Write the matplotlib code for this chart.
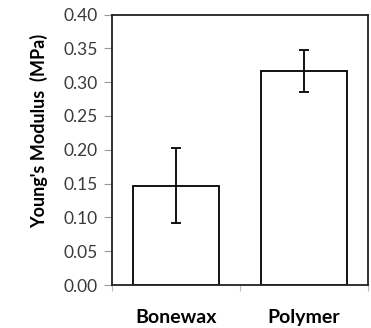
import matplotlib
matplotlib.use("Agg")
import matplotlib.pyplot as plt

categories = ["Bonewax", "Polymer"]
values = [0.147, 0.316]
errors = [0.056, 0.031]
yticks = [0.00, 0.05, 0.10, 0.15, 0.20, 0.25, 0.30, 0.35, 0.40]

plt.rcParams['font.family'] = ['Lato', 'DejaVu Sans']

fig = plt.figure(figsize=(3.71, 3.28), dpi=100)
ax = fig.add_axes([111.5/371, 1 - 285/328, (368-111.5)/371, (285-14.5)/328])

x = list(range(len(categories)))
ax.bar(x, values, width=0.67, color="white", edgecolor="black", linewidth=1.3, zorder=2)
ax.errorbar(x, values, yerr=errors, fmt="none", ecolor="black", elinewidth=1.3,
            capsize=3.5, capthick=1.3, zorder=3)

ax.set_xlim(-0.5, 1.5)
ax.set_ylim(0, 0.40)
ax.set_yticks(yticks)
ax.set_yticklabels([f"{v:.2f}" for v in yticks], fontsize=12.5, color="#3a3a3a")
ax.set_xticks(x)
ax.set_xticklabels(categories, fontsize=14, fontweight="bold")
ax.tick_params(axis="x", length=0, pad=17)
ax.set_xticks([-0.5, 0.5, 1.5], minor=True)
ax.tick_params(axis="x", which="minor", length=4, color="#bbbbbb", width=0.8)
ax.tick_params(axis="y", length=6, color="#999999", width=0.8, pad=4)
for s in ax.spines.values():
    s.set_linewidth(1.3)
    s.set_color("#222222")
ax.set_ylabel("Young's Modulus  (MPa)", fontsize=13, fontweight="bold")
ax.yaxis.set_label_coords(-0.248, 0.57)

fig.savefig("out.png", dpi=100)
